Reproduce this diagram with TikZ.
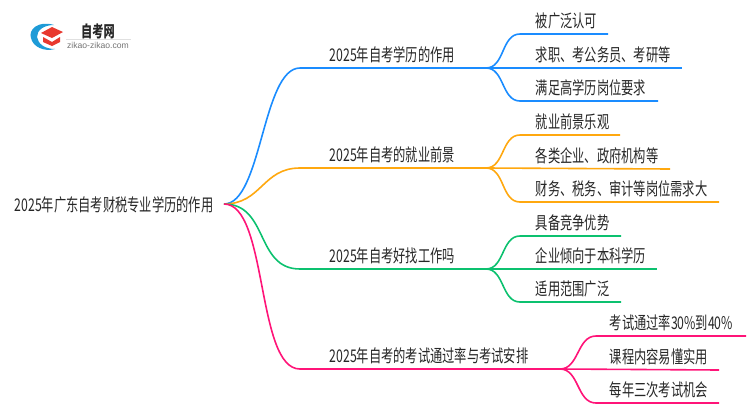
\documentclass[tikz,border=0pt]{standalone}
\usepackage{fontspec}
\setmainfont{Noto Sans CJK SC}[FakeStretch=0.70]
\newfontfamily\urlfont{Liberation Sans}
\usetikzlibrary{positioning}
\definecolor{blueline}{HTML}{1A8CFF}
\definecolor{orangeline}{HTML}{FFA80F}
\definecolor{greenline}{HTML}{0CC16F}
\definecolor{pinkline}{HTML}{FF1478}
\definecolor{inkgray}{HTML}{262626}
\definecolor{logoblue}{HTML}{1E9BD7}
\definecolor{logored}{HTML}{E8392F}
\tikzset {
    every path/.style={line width=1.6pt},
    txt/.style={anchor=west, inner sep=0pt, text=inkgray, font=\fontsize{17.5}{18}\selectfont},
    fork/.style={out=0, in=180, looseness=1}
}

\begin{document}
\begin{tikzpicture}[x=1pt, y=-1pt]
    \useasboundingbox (0,0) rectangle (750,410);

    % logo
    \fill[logoblue] (54,25) .. controls (38,20) and (28,30) .. (31,38) .. controls (33,47) and (44,52) .. (55,49) .. controls (45,49) and (38,44) .. (37,37) .. controls (37,30) and (44,25) .. (54,25);
    \fill[logored] (41,33) -- (52,27) -- (63,32) -- (52,38) -- cycle;
    \fill[logored] (43,37) -- (52,42) -- (60,37) -- (60,42) -- (52,46) -- (43,42) -- cycle;
    \node[inner sep=0pt, text=inkgray, font=\fontsize{16}{16}\selectfont\bfseries] (logotitle) at (98,31) {自考网};
    \draw[black!12, line width=0.6pt] (66,39) -- (131,39);
    \node[inner sep=0pt, text=black!55, font=\fontsize{8.6}{9}\urlfont] (logourl) at (98,45) {zikao-zikao.com};

    % root
    \node[txt] (root) at (14,205) {2025年广东自考财税专业学历的作用};
    \coordinate (r0) at (224,204);

    % branch lines
    \coordinate (b1) at (300,68);
    \coordinate (b2) at (300,168);
    \coordinate (b3) at (300,269);
    \coordinate (b4) at (300,369);
    \coordinate (f1) at (486,68);
    \coordinate (f2) at (486,168);
    \coordinate (f3) at (486,269);
    \coordinate (f4) at (560,369);

    \node[txt] (t1) at (329,55) {2025年自考学历的作用};
    \node[txt] (t2) at (329,155) {2025年自考的就业前景};
    \node[txt] (t3) at (329,256) {2025年自考好找工作吗};
    \node[txt] (t4) at (329,356) {2025年自考的考试通过率与考试安排};

    \draw[blueline] (r0) to[fork, looseness=0.62] (b1) -- (f1);
    \draw[orangeline] (r0) to[fork, looseness=1.15] (b2) -- (f2);
    \draw[greenline] (r0) to[fork, looseness=1.15] (b3) -- (f3);
    \draw[pinkline] (r0) to[fork, looseness=0.62] (b4) -- (f4);

    % blue leaves
    \coordinate (l11) at (520,34);
    \coordinate (l13) at (520,101);
    \coordinate (e11) at (608,34);
    \coordinate (e12) at (682,68);
    \coordinate (e13) at (658,101);
    \node[txt] (n11) at (535,21) {被广泛认可};
    \node[txt] (n12) at (535,55) {求职、考公务员、考研等};
    \node[txt] (n13) at (535,88) {满足高学历岗位要求};
    \draw[blueline] (f1) to[fork] (l11) -- (e11);
    \draw[blueline] (f1) -- (e12);
    \draw[blueline] (f1) to[fork] (l13) -- (e13);

    % orange leaves
    \coordinate (l21) at (520,135);
    \coordinate (l23) at (520,202);
    \coordinate (e21) at (620,135);
    \coordinate (e22) at (670,169);
    \coordinate (e23) at (719,202);
    \node[txt] (n21) at (535,122) {就业前景乐观};
    \node[txt] (n22) at (535,156) {各类企业、政府机构等};
    \node[txt] (n23) at (535,189) {财务、税务、审计等岗位需求大};
    \draw[orangeline] (f2) to[fork] (l21) -- (e21);
    \draw[orangeline] (f2) -- (e22);
    \draw[orangeline] (f2) to[fork] (l23) -- (e23);

    % green leaves
    \coordinate (l31) at (520,236);
    \coordinate (l33) at (520,302);
    \coordinate (e31) at (621,236);
    \coordinate (e32) at (657,269);
    \coordinate (e33) at (621,302);
    \node[txt] (n31) at (535,223) {具备竞争优势};
    \node[txt] (n32) at (535,256) {企业倾向于本科学历};
    \node[txt] (n33) at (535,289) {适用范围广泛};
    \draw[greenline] (f3) to[fork] (l31) -- (e31);
    \draw[greenline] (f3) -- (e32);
    \draw[greenline] (f3) to[fork] (l33) -- (e33);

    % pink leaves
    \coordinate (l41) at (596,336);
    \coordinate (l43) at (596,403);
    \coordinate (e41) at (746,336);
    \coordinate (e42) at (719,370);
    \coordinate (e43) at (719,403);
    \node[txt] (n41) at (609,323) {考试通过率30\%到40\%};
    \node[txt] (n42) at (609,357) {课程内容易懂实用};
    \node[txt] (n43) at (609,390) {每年三次考试机会};
    \draw[pinkline] (f4) to[fork] (l41) -- (e41);
    \draw[pinkline] (f4) -- (e42);
    \draw[pinkline] (f4) to[fork] (l43) -- (e43);
\end{tikzpicture}
\end{document}
